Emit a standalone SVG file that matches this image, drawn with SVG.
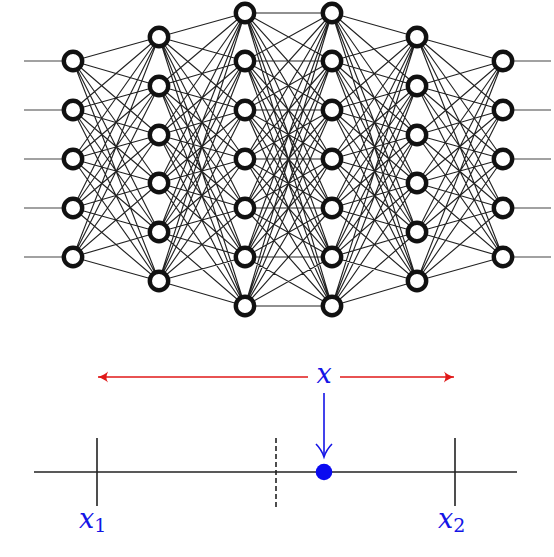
<svg xmlns="http://www.w3.org/2000/svg" width="554" height="557" viewBox="0 0 554 557">
<style>
.edge{fill:none;stroke:#222;stroke-width:1.15}
.io{fill:none;stroke:#444;stroke-width:1.2}
.node{fill:#fff;stroke:#111;stroke-width:4.4}
.axis{stroke:#222;stroke-width:1.6;fill:none}
.math{font-family:"DejaVu Serif","Liberation Serif",serif;font-style:italic;fill:#1414e6}
.sub{font-family:"DejaVu Serif","Liberation Serif",serif;font-style:normal;fill:#1414e6}
</style>
<defs>
<marker id="redhead" markerWidth="14" markerHeight="12" refX="11" refY="6" orient="auto-start-reverse" markerUnits="userSpaceOnUse">
<path d="M11,6 Q4,3.5 1,0.5 Q4,5 1,11.5 Q4,8.5 11,6 Z" fill="#e01818"/>
</marker>
</defs>
<rect width="554" height="557" fill="#fff"/>
<g id="connectors">
<path class="io" d="M24 61H73M24 110H73M24 159H73M24 208H73M24 257H73M503 61H551M503 110H551M503 159H551M503 208H551M503 257H551"/>
<path class="edge" d="M73 61L159 37M73 61L159 86M73 61L159 135M73 61L159 183M73 61L159 232M73 61L159 281
M73 110L159 37M73 110L159 86M73 110L159 135M73 110L159 183M73 110L159 232M73 110L159 281
M73 159L159 37M73 159L159 86M73 159L159 135M73 159L159 183M73 159L159 232M73 159L159 281
M73 208L159 37M73 208L159 86M73 208L159 135M73 208L159 183M73 208L159 232M73 208L159 281
M73 257L159 37M73 257L159 86M73 257L159 135M73 257L159 183M73 257L159 232M73 257L159 281"/>
<path class="edge" d="M159 37L245 13M159 37L245 61M159 37L245 110M159 37L245 159M159 37L245 208M159 37L245 257M159 37L245 306
M159 86L245 13M159 86L245 61M159 86L245 110M159 86L245 159M159 86L245 208M159 86L245 257M159 86L245 306
M159 135L245 13M159 135L245 61M159 135L245 110M159 135L245 159M159 135L245 208M159 135L245 257M159 135L245 306
M159 183L245 13M159 183L245 61M159 183L245 110M159 183L245 159M159 183L245 208M159 183L245 257M159 183L245 306
M159 232L245 13M159 232L245 61M159 232L245 110M159 232L245 159M159 232L245 208M159 232L245 257M159 232L245 306
M159 281L245 13M159 281L245 61M159 281L245 110M159 281L245 159M159 281L245 208M159 281L245 257M159 281L245 306"/>
<path class="edge" d="M245 13L332 13M245 13L332 61M245 13L332 110M245 13L332 159M245 13L332 208M245 13L332 257M245 13L332 306
M245 61L332 13M245 61L332 61M245 61L332 110M245 61L332 159M245 61L332 208M245 61L332 257M245 61L332 306
M245 110L332 13M245 110L332 61M245 110L332 110M245 110L332 159M245 110L332 208M245 110L332 257M245 110L332 306
M245 159L332 13M245 159L332 61M245 159L332 110M245 159L332 159M245 159L332 208M245 159L332 257M245 159L332 306
M245 208L332 13M245 208L332 61M245 208L332 110M245 208L332 159M245 208L332 208M245 208L332 257M245 208L332 306
M245 257L332 13M245 257L332 61M245 257L332 110M245 257L332 159M245 257L332 208M245 257L332 257M245 257L332 306
M245 306L332 13M245 306L332 61M245 306L332 110M245 306L332 159M245 306L332 208M245 306L332 257M245 306L332 306"/>
<path class="edge" d="M332 13L417 37M332 13L417 86M332 13L417 135M332 13L417 183M332 13L417 232M332 13L417 281
M332 61L417 37M332 61L417 86M332 61L417 135M332 61L417 183M332 61L417 232M332 61L417 281
M332 110L417 37M332 110L417 86M332 110L417 135M332 110L417 183M332 110L417 232M332 110L417 281
M332 159L417 37M332 159L417 86M332 159L417 135M332 159L417 183M332 159L417 232M332 159L417 281
M332 208L417 37M332 208L417 86M332 208L417 135M332 208L417 183M332 208L417 232M332 208L417 281
M332 257L417 37M332 257L417 86M332 257L417 135M332 257L417 183M332 257L417 232M332 257L417 281
M332 306L417 37M332 306L417 86M332 306L417 135M332 306L417 183M332 306L417 232M332 306L417 281"/>
<path class="edge" d="M417 37L503 61M417 37L503 110M417 37L503 159M417 37L503 208M417 37L503 257
M417 86L503 61M417 86L503 110M417 86L503 159M417 86L503 208M417 86L503 257
M417 135L503 61M417 135L503 110M417 135L503 159M417 135L503 208M417 135L503 257
M417 183L503 61M417 183L503 110M417 183L503 159M417 183L503 208M417 183L503 257
M417 232L503 61M417 232L503 110M417 232L503 159M417 232L503 208M417 232L503 257
M417 281L503 61M417 281L503 110M417 281L503 159M417 281L503 208M417 281L503 257"/>
</g>
<g id="layer1">
<circle id="n1_1" class="node" cx="73" cy="61" r="9.2"/>
<circle id="n1_2" class="node" cx="73" cy="110" r="9.2"/>
<circle id="n1_3" class="node" cx="73" cy="159" r="9.2"/>
<circle id="n1_4" class="node" cx="73" cy="208" r="9.2"/>
<circle id="n1_5" class="node" cx="73" cy="257" r="9.2"/>
</g>
<g id="layer2">
<circle id="n2_1" class="node" cx="159" cy="37" r="9.2"/>
<circle id="n2_2" class="node" cx="159" cy="86" r="9.2"/>
<circle id="n2_3" class="node" cx="159" cy="135" r="9.2"/>
<circle id="n2_4" class="node" cx="159" cy="183" r="9.2"/>
<circle id="n2_5" class="node" cx="159" cy="232" r="9.2"/>
<circle id="n2_6" class="node" cx="159" cy="281" r="9.2"/>
</g>
<g id="layer3">
<circle id="n3_1" class="node" cx="245" cy="13" r="9.2"/>
<circle id="n3_2" class="node" cx="245" cy="61" r="9.2"/>
<circle id="n3_3" class="node" cx="245" cy="110" r="9.2"/>
<circle id="n3_4" class="node" cx="245" cy="159" r="9.2"/>
<circle id="n3_5" class="node" cx="245" cy="208" r="9.2"/>
<circle id="n3_6" class="node" cx="245" cy="257" r="9.2"/>
<circle id="n3_7" class="node" cx="245" cy="306" r="9.2"/>
</g>
<g id="layer4">
<circle id="n4_1" class="node" cx="332" cy="13" r="9.2"/>
<circle id="n4_2" class="node" cx="332" cy="61" r="9.2"/>
<circle id="n4_3" class="node" cx="332" cy="110" r="9.2"/>
<circle id="n4_4" class="node" cx="332" cy="159" r="9.2"/>
<circle id="n4_5" class="node" cx="332" cy="208" r="9.2"/>
<circle id="n4_6" class="node" cx="332" cy="257" r="9.2"/>
<circle id="n4_7" class="node" cx="332" cy="306" r="9.2"/>
</g>
<g id="layer5">
<circle id="n5_1" class="node" cx="417" cy="37" r="9.2"/>
<circle id="n5_2" class="node" cx="417" cy="86" r="9.2"/>
<circle id="n5_3" class="node" cx="417" cy="135" r="9.2"/>
<circle id="n5_4" class="node" cx="417" cy="183" r="9.2"/>
<circle id="n5_5" class="node" cx="417" cy="232" r="9.2"/>
<circle id="n5_6" class="node" cx="417" cy="281" r="9.2"/>
</g>
<g id="layer6">
<circle id="n6_1" class="node" cx="503" cy="61" r="9.2"/>
<circle id="n6_2" class="node" cx="503" cy="110" r="9.2"/>
<circle id="n6_3" class="node" cx="503" cy="159" r="9.2"/>
<circle id="n6_4" class="node" cx="503" cy="208" r="9.2"/>
<circle id="n6_5" class="node" cx="503" cy="257" r="9.2"/>
</g>
<g id="numberline">
<line class="axis" x1="34" y1="472" x2="517" y2="472"/>
<line class="axis" x1="97" y1="438" x2="97" y2="506"/>
<line class="axis" x1="455" y1="438" x2="455" y2="506"/>
<line class="axis" x1="276" y1="438" x2="276" y2="507" stroke-dasharray="5,3"/>
<circle cx="324" cy="472" r="8.3" fill="#0a0af0"/>
</g>
<g id="arrows">
<line x1="308" y1="377" x2="98" y2="377" stroke="#e01818" stroke-width="1.6" marker-end="url(#redhead)"/>
<line x1="340" y1="377" x2="454" y2="377" stroke="#e01818" stroke-width="1.6" marker-end="url(#redhead)"/>
<line x1="324" y1="393" x2="324" y2="456" stroke="#1414e6" stroke-width="1.6"/>
<path d="M316 444Q321.5 449.5 324 457Q326.5 449.5 332 444" fill="none" stroke="#1414e6" stroke-width="1.6"/>
</g>
<g id="labels">
<text class="math" x="324" y="383" font-size="27" text-anchor="middle">x</text>
<text class="math" x="79" y="528" font-size="27">x<tspan class="sub" font-size="19" dy="4">1</tspan></text>
<text class="math" x="438" y="528" font-size="27">x<tspan class="sub" font-size="19" dy="4">2</tspan></text>
</g>
</svg>
